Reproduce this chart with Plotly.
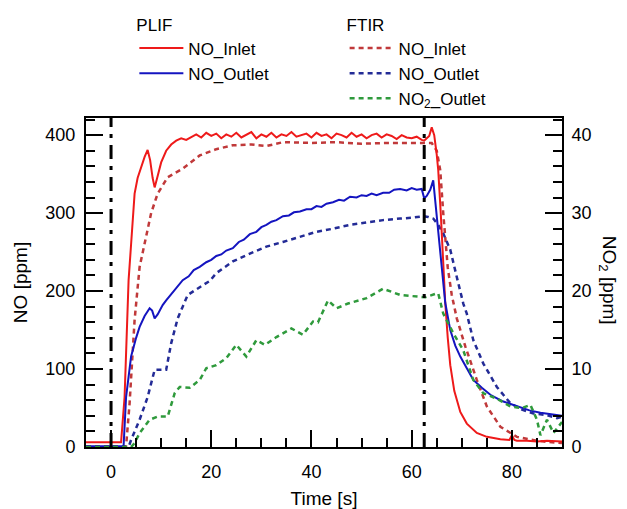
from plotly import graph_objects as go

# PLIF NO inlet (solid red)
plif_in_t = [-5, 2.0, 2.7, 3.5, 4.0, 4.7, 5.3, 6.0, 6.7, 7.3, 7.8, 8.3, 8.7, 9.2, 10, 11, 12, 13,
             14, 15, 16, 17, 18, 19, 20, 21, 22, 23, 24, 25, 26, 27, 28, 29, 30, 31, 32, 33, 34,
             35, 36, 37, 38, 39, 40, 41, 42, 43, 44, 45, 46, 47, 48, 49, 50, 51, 52, 53, 54, 55,
             56, 57, 58, 59, 60, 61, 62, 62.5, 63, 63.5, 64, 64.5, 65, 65.3, 65.8, 66.3, 66.7,
             67.2, 67.7, 68.5, 69.7, 71, 73, 75, 77.7, 79.5, 80, 80.5, 81, 83, 85, 87, 90]
plif_in = [6, 6, 64, 214, 260, 325, 345, 359, 372, 381, 368, 345, 333, 345, 365, 380, 388, 393,
           396, 394, 398, 401, 397, 403, 399, 402, 396, 401, 398, 403, 397, 400, 404, 396, 401,
           398, 403, 397, 401, 399, 404, 398, 400, 402, 397, 403, 399, 401, 396, 402, 400, 397,
           403, 398, 401, 396, 400, 402, 397, 401, 399, 395, 400, 397, 396, 398, 394, 393, 396,
           399, 410, 400, 375, 355, 300, 230, 185, 140, 105, 72, 45, 30, 18, 13, 10, 9, 15, 9,
           8, 8, 7, 8, 7]

# PLIF NO outlet (solid blue)
plif_out_t = [-5, 2.5, 3, 4, 5, 5.7, 6.7, 7.7, 8.2, 8.7, 9.3, 10.3, 11, 12, 13, 14.3, 15.5, 16.5,
              17.7, 19, 20, 21, 22, 23, 24.3, 25.5, 26.5, 27.7, 29, 30, 31, 32, 33, 34.3, 35.5,
              36.5, 37.7, 39, 40, 41, 42, 43, 44.3, 45.5, 46.5, 47.7, 49, 50, 51, 52, 53, 54.3,
              55.5, 56.5, 57.7, 59, 60, 61, 62, 62.5, 63, 63.7, 64.3, 64.8, 65.3, 66, 66.7, 67.7,
              68.7, 69.7, 71, 72.3, 74, 75.7, 78, 81, 83.5, 85.7, 88, 90]
plif_out = [1, 1, 64, 116, 140, 154, 168, 178, 175, 165, 170, 182, 188, 196, 205, 214, 219, 227,
            231, 237, 240, 245, 247, 252, 255, 263, 266, 273, 276, 282, 285, 289, 291, 296, 297,
            301, 302, 305, 305, 309, 308, 312, 314, 317, 316, 321, 320, 323, 322, 325, 323, 326,
            326, 330, 331, 329, 332, 330, 331, 319, 322, 330, 342, 310, 270, 225, 185, 150, 130,
            116, 100, 86, 76, 67, 59, 52, 47, 44, 42, 40]

# FTIR NO inlet (dotted red)
ftir_in_t = [-5, 3.0, 3.7, 4.7, 5.7, 7, 8, 9.3, 11.3, 14.3, 17.7, 21, 24.3, 28, 31, 34.3, 40, 45,
             50, 55, 60, 62.5, 64, 65, 65.7, 66.3, 67.2, 68, 69, 70.7, 73, 75, 77.7, 81, 85, 88, 90]
ftir_in = [1, 1, 56, 163, 231, 270, 300, 325, 346, 357, 374, 382, 387, 388, 386, 391, 390, 391,
           389, 390, 390, 390, 390, 380, 355, 300, 230, 195, 165, 129, 86, 52, 26, 13, 8, 6, 5]

# FTIR NO outlet (dotted blue)
ftir_out_t = [-5, 3.5, 4, 5.7, 7.3, 8.7, 9.5, 11, 12, 13.3, 14.3, 15.3, 17.7, 19.7, 21, 24.3, 27.7,
              31, 34.3, 37.7, 41, 44.3, 47.7, 51, 54.3, 57.7, 60, 62.3, 63.3, 64.3, 65.3, 66.3,
              67.7, 69, 70.3, 71, 72.3, 74.3, 77, 79.7, 82, 84.3, 87, 89, 90]
ftir_out = [0, 0, 9, 35, 64, 99, 99, 99, 133, 165, 180, 195, 205, 213, 223, 238, 248, 257, 263,
            270, 276, 280, 285, 288, 291, 293, 294, 296, 295, 293, 285, 274, 253, 218, 184, 171,
            137, 107, 77, 56, 48, 43, 41, 37, 39]

# FTIR NO2 outlet (dotted green, right axis)
ftir_no2_t = [-5, 4.0, 4.7, 5.7, 7.7, 9.3, 11.3, 12.7, 13.7, 15.7, 17.7, 19, 21, 23, 25, 27, 29,
              30.7, 33, 36, 38.3, 40.3, 41.3, 43.3, 45, 47.3, 51, 54.3, 57.7, 61, 62.7, 65, 65.3,
              66.3, 68.3, 70.3, 72.3, 74.3, 77, 79.7, 82, 83.7, 85, 85.7, 87, 88.3, 89.7, 90]
ftir_no2 = [0, 0, 0.5, 1.8, 3.5, 3.9, 3.9, 6.9, 7.7, 7.6, 8.6, 10.1, 10.5, 11.4, 13.1, 11.6,
            13.7, 13.1, 14.1, 15.2, 14.4, 16.1, 16.0, 18.8, 17.8, 18.4, 19.1, 20.3, 19.5, 19.3,
            19.2, 19.7, 19.7, 17.1, 14.6, 12.4, 8.6, 6.9, 6.2, 5.2, 5.0, 5.4, 3.5, 1.5, 3.5, 1.8,
            3.0, 3.2]

event_t = [0, 62.5]

FONT = "Liberation Sans, Arial, sans-serif"


def main() -> None:
    fig = go.Figure()

    dash = "5px,4px"
    fig.add_trace(go.Scatter(x=ftir_in_t, y=ftir_in, mode="lines", name="NO_Inlet",
                             line=dict(color="#c0393a", width=2.5, dash=dash), legend="legend2"))
    fig.add_trace(go.Scatter(x=ftir_out_t, y=ftir_out, mode="lines", name="NO_Outlet",
                             line=dict(color="#232b96", width=2.5, dash=dash), legend="legend2"))
    fig.add_trace(go.Scatter(x=ftir_no2_t, y=ftir_no2, mode="lines", name="NO<sub>2</sub>_Outlet",
                             line=dict(color="#2f9a3c", width=2.5, dash=dash), legend="legend2",
                             yaxis="y2"))
    fig.add_trace(go.Scatter(x=plif_in_t, y=plif_in, mode="lines", name="NO_Inlet",
                             line=dict(color="#ee1a1a", width=2), legend="legend"))
    fig.add_trace(go.Scatter(x=plif_out_t, y=plif_out, mode="lines", name="NO_Outlet",
                             line=dict(color="#1414c0", width=2), legend="legend"))

    for t in event_t:
        fig.add_shape(type="line", xref="x", yref="paper", x0=t, x1=t, y0=0, y1=1,
                      line=dict(color="black", width=3, dash="14px,7px,4px,7px"))

    axis_common = dict(
        showline=True, linecolor="black", linewidth=2,
        ticks="inside", ticklen=17, tickwidth=2, tickcolor="black",
        showgrid=False, zeroline=False, automargin=False,
        tickfont=dict(family=FONT, size=18, color="black"),
    )

    # page body has an 8px margin, so the figure is drawn 8px smaller
    fig.update_layout(
        width=619, height=501,
        margin=dict(l=78, r=65, t=110, b=62, autoexpand=False),
        plot_bgcolor="white", paper_bgcolor="white",
        font=dict(family=FONT, size=18, color="black"),
        xaxis=dict(
            **axis_common, range=[-5, 90], dtick=20, mirror=True, ticklabelstandoff=7,
            minor=dict(ticks="inside", ticklen=9, tickwidth=2, tickcolor="black", dtick=5),
            title=dict(text="Time [s]", font=dict(family=FONT, size=19), standoff=11),
        ),
        yaxis=dict(
            **axis_common, range=[0, 422], dtick=100, mirror=True, ticklabelstandoff=5,
            minor=dict(ticks="inside", ticklen=9, tickwidth=2, tickcolor="black", dtick=20),
            title=dict(text="NO [ppm]", font=dict(family=FONT, size=19), standoff=13),
        ),
        yaxis2=dict(
            **axis_common, range=[0, 42.2], dtick=10, overlaying="y", side="right",
            ticklabelstandoff=4,
            minor=dict(ticks="inside", ticklen=9, tickwidth=2, tickcolor="black", dtick=2),
        ),
        legend=dict(
            title=dict(text="PLIF", font=dict(family=FONT, size=17)),
            x=0.1016, y=1.333, itemwidth=44,
            xanchor="left", yanchor="top", bgcolor="rgba(0,0,0,0)",
            font=dict(family=FONT, size=17), tracegroupgap=0,
        ),
        legend2=dict(
            title=dict(text="FTIR", font=dict(family=FONT, size=17)),
            x=0.5433, y=1.333, itemwidth=44,
            xanchor="left", yanchor="top", bgcolor="rgba(0,0,0,0)",
            font=dict(family=FONT, size=17), tracegroupgap=0,
        ),
    )

    fig.add_annotation(
        text="NO<sub>2</sub> [ppm]", textangle=90, showarrow=False,
        xref="paper", yref="paper", x=1.0, y=0.508, xshift=60,
        font=dict(family=FONT, size=19, color="black"),
    )

    fig.write_html("out.html")


if __name__ == "__main__":
    main()
